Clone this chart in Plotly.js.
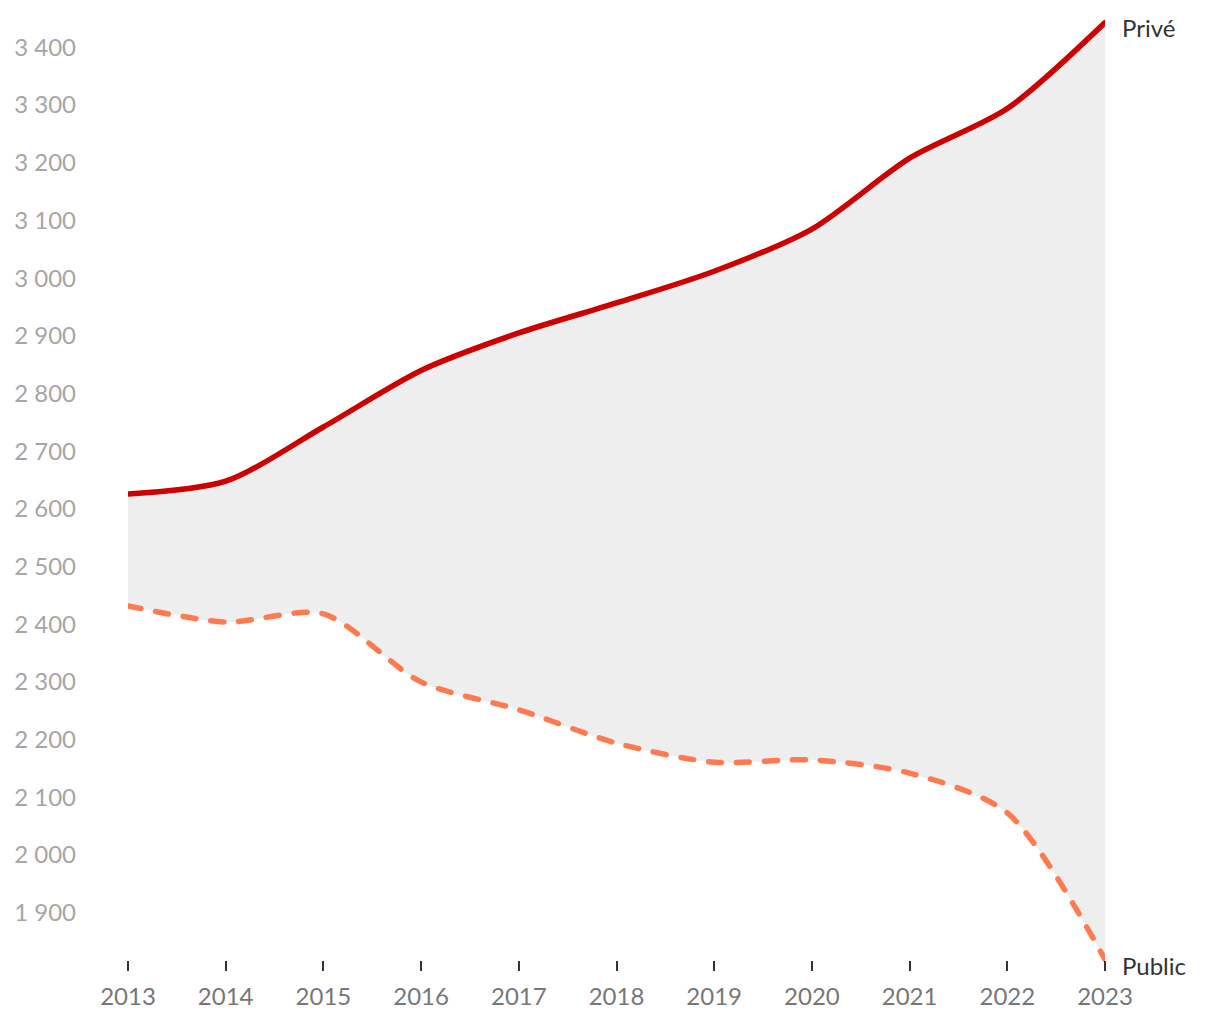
<!DOCTYPE html>
<html>
<head>
<meta charset="utf-8">
<script src="https://cdn.plot.ly/plotly-3.0.1.min.js"></script>
<style>
html,body{margin:0;padding:0;background:#fff;}
#chart{width:1220px;height:1020px;}
#chart path.js-line{stroke-linecap:round !important;}
</style>
</head>
<body>
<div id="chart"></div>
<script>
const years = [2013, 2014, 2015, 2016, 2017, 2018, 2019, 2020, 2021, 2022, 2023];
const prive = [2626, 2648, 2742, 2840, 2905, 2957, 3012, 3085, 3208, 3294, 3443];
const publicVals = [2432, 2404, 2418, 2300, 2252, 2194, 2161, 2165, 2142, 2073, 1819];
const yTicks = [1900, 2000, 2100, 2200, 2300, 2400, 2500, 2600, 2700, 2800, 2900, 3000, 3100, 3200, 3300, 3400];
const labelPrive = 'Privé';
const labelPublic = 'Public';

const font = 'Lato, "Open Sans", sans-serif';

const traces = [
  {x: years, y: prive, type: 'scatter', mode: 'lines', name: labelPrive,
   line: {color: '#cc0000', width: 5.5, shape: 'spline', smoothing: 0.8}, hoverinfo: 'skip'},
  {x: years, y: publicVals, type: 'scatter', mode: 'lines', name: labelPublic,
   fill: 'tonexty', fillcolor: '#eeeeee',
   line: {color: '#ff7a50', width: 5.5, shape: 'spline', smoothing: 0.8, dash: '13px,15px'}, hoverinfo: 'skip'}
];

const layout = {
  width: 1220, height: 1020,
  margin: {l: 128, r: 115, t: 7, b: 38},
  paper_bgcolor: '#fff', plot_bgcolor: '#fff',
  showlegend: false,
  separators: ', ',
  font: {family: font},
  xaxis: {
    range: [2013, 2023], tickvals: years, ticktext: years.map(String),
    showgrid: false, zeroline: false, showline: false,
    ticks: 'outside', ticklen: 10, tickwidth: 2, tickcolor: '#333',
    anchor: 'free', position: 0.0225,
    tickfont: {size: 24, color: '#777777', family: font},
    ticklabelstandoff: 5
  },
  yaxis: {
    range: [1780, 3470], tickvals: yTicks, tickformat: ',d',
    showgrid: false, zeroline: false, showline: false, ticks: '',
    tickfont: {size: 24, color: '#a6a6a6', family: font},
    ticklabelstandoff: 51
  },
  annotations: [
    {x: 2023, y: prive[prive.length - 1], xref: 'x', yref: 'y', text: labelPrive, showarrow: false,
     xanchor: 'left', yanchor: 'middle', xshift: 15, yshift: -5, font: {size: 24, color: '#333333', family: font}},
    {x: 2023, y: publicVals[publicVals.length - 1], xref: 'x', yref: 'y', text: labelPublic, showarrow: false,
     xanchor: 'left', yanchor: 'middle', xshift: 15, yshift: -6, font: {size: 24, color: '#333333', family: font}}
  ]
};

Plotly.newPlot('chart', traces, layout, {displayModeBar: false, staticPlot: true});
</script>
</body>
</html>
